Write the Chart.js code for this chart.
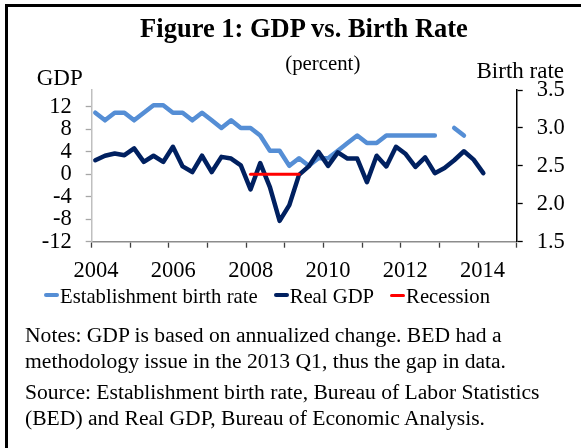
<!DOCTYPE html>
<html><head><meta charset="utf-8">
<script src="https://cdn.jsdelivr.net/npm/chart.js@4.4.1/dist/chart.umd.min.js"></script>
<style>
html,body{margin:0;padding:0;background:#fff;width:581px;height:448px;overflow:hidden;}
body{position:relative;font-family:"Liberation Serif","Times New Roman",serif;color:#000;}
#frame{position:absolute;left:5px;top:4px;width:700px;height:600px;border-left:3px solid #000;border-top:3px solid #000;}
#wrap{position:absolute;left:0;top:0;width:581px;height:448px;}
.t{position:absolute;white-space:nowrap;line-height:1;}
#legend{position:absolute;left:44px;top:286px;display:flex;align-items:center;gap:16px;font-size:20.7px;line-height:1;white-space:nowrap;}
#legend .it{display:flex;align-items:center;}
#legend .sw{display:inline-block;width:15px;margin-right:1px;border-radius:2px;position:relative;top:-1px;}
.notes{position:absolute;left:25px;font-size:21.6px;line-height:26.6px;white-space:nowrap;margin:0;}
</style></head><body>
<div id="frame"></div>
<div id="wrap"><canvas id="c" width="581" height="448"></canvas></div>
<div class="t" style="left:304px;top:15px;transform:translateX(-50%);font-size:26.5px;font-weight:bold;">Figure 1: GDP vs. Birth Rate</div>
<div class="t" style="left:322.8px;top:52.6px;transform:translateX(-50%);font-size:20.8px;">(percent)</div>
<div class="t" style="left:36.7px;top:65.7px;font-size:23px;">GDP</div>
<div class="t" style="right:17px;top:59px;font-size:23px;">Birth rate</div>
<div id="legend"></div>
<p class="notes" style="top:321.6px;">Notes: GDP is based on annualized change. BED had a<br>methodology issue in the 2013 Q1, thus the gap in data.</p>
<p class="notes" style="top:378.9px;">Source: Establishment birth rate, Bureau of Labor Statistics<br>(BED) and Real GDP, Bureau of Economic Analysis.</p>
<script>
const quarters = [
  '2004Q1','2004Q2','2004Q3','2004Q4','2005Q1','2005Q2','2005Q3','2005Q4',
  '2006Q1','2006Q2','2006Q3','2006Q4','2007Q1','2007Q2','2007Q3','2007Q4',
  '2008Q1','2008Q2','2008Q3','2008Q4','2009Q1','2009Q2','2009Q3','2009Q4',
  '2010Q1','2010Q2','2010Q3','2010Q4','2011Q1','2011Q2','2011Q3','2011Q4',
  '2012Q1','2012Q2','2012Q3','2012Q4','2013Q1','2013Q2','2013Q3','2013Q4',
  '2014Q1'
];
const birthRate = [
  3.2,3.1,3.2,3.2, 3.1,3.2,3.3,3.3,
  3.2,3.2,3.1,3.2, 3.1,3.0,3.1,3.0,
  3.0,2.9,2.7,2.7, 2.5,2.6,2.5,2.6,
  2.6,2.7,2.8,2.9, 2.8,2.8,2.9,2.9,
  2.9,2.9,2.9,2.9, null,3.0,2.9,null,
  null
];
const realGDP = [
  2.5,3.3,3.7,3.4, 4.6,2.2,3.3,2.2,
  4.9,1.4,0.4,3.3, 0.4,3.1,2.8,1.6,
  -2.7,2.0,-2.3,-8.3, -5.5,-0.1,1.4,4.0,
  1.5,3.9,2.8,2.8, -1.4,3.3,1.4,4.9,
  3.6,1.3,3.0,0.2, 1.1,2.5,4.1,2.6,
  0.2
];
const recession = [
  null,null,null,null, null,null,null,null,
  null,null,null,null, null,null,null,null,
  0,0,0,0, 0,0,null,null,
  null,null,null,null, null,null,null,null,
  null,null,null,null, null,null,null,null,
  null
];
const gdpTicks = [-12,-8,-4,0,4,8,12];
const rateTicks = [1.5,2.0,2.5,3.0,3.5];
const yearLabels = ['2004','2006','2008','2010','2012','2014'];
const seriesNames = ['Establishment birth rate','Real GDP','Recession'];
const seriesColors = ['#558ED5','#002060','#FF0000'];

const qx = q => Number(q.slice(0,4)) + (Number(q.slice(5)) - 1) / 4;
const pts = arr => quarters.map((q,i) => ({x: qx(q), y: arr[i]}));

const X_MIN = 2003.907, X_MAX = 2014.86;
const FONT = {family: "'Liberation Serif','Times New Roman',serif", size: 22.5};

// legend (HTML)
const lg = document.getElementById('legend');
seriesNames.forEach((n,i) => {
  const it = document.createElement('div'); it.className = 'it';
  const sw = document.createElement('span'); sw.className = 'sw';
  sw.style.background = seriesColors[i];
  sw.style.height = (i === 2 ? 3 : 4) + 'px';
  const tx = document.createElement('span'); tx.textContent = n;
  it.appendChild(sw); it.appendChild(tx); lg.appendChild(it);
});

new Chart(document.getElementById('c'), {
  type: 'line',
  data: {
    datasets: [
      {label: seriesNames[0], data: pts(birthRate), yAxisID: 'y2', borderColor: seriesColors[0], borderWidth: 4.5, order: 3},
      {label: seriesNames[1], data: pts(realGDP), yAxisID: 'y', borderColor: seriesColors[1], borderWidth: 4.5, order: 2},
      {label: seriesNames[2], data: pts(recession), yAxisID: 'y', borderColor: seriesColors[2], borderWidth: 3, order: 1}
    ]
  },
  options: {
    responsive: false,
    animation: false,
    devicePixelRatio: 1,
    layout: {padding: {top: 90, bottom: 156.3, left: 0, right: 0}},
    elements: {
      point: {radius: 0, hoverRadius: 0},
      line: {tension: 0, borderJoinStyle: 'round', borderCapStyle: 'round', fill: false}
    },
    plugins: {legend: {display: false}, tooltip: {enabled: false}, title: {display: false}},
    scales: {
      x: {
        type: 'linear', position: 'bottom', min: X_MIN, max: X_MAX,
        afterBuildTicks: s => { s.ticks = Array.from({length: 12}, (_, k) => ({value: X_MIN + k * (X_MAX - X_MIN) / 11})); },
        afterFit: s => { s.height = 50; },
        ticks: {autoSkip: false, maxRotation: 0, minRotation: 0, labelOffset: 4.4, padding: 9.5, color: '#000', font: FONT,
          callback: (v, i) => (i % 2 === 0 ? (yearLabels[i / 2] || '') : '')},
        grid: {drawOnChartArea: false, drawTicks: true, tickLength: 6, tickColor: '#404040', tickWidth: 1.3},
        border: {display: true, color: '#8C8C8C', width: 1.5}
      },
      y: {
        type: 'linear', position: 'left', min: -12, max: 15,
        afterBuildTicks: s => { s.ticks = gdpTicks.map(v => ({value: v})); },
        afterFit: s => { s.width = 91.7; },
        ticks: {autoSkip: false, padding: 14, color: '#000', font: FONT, callback: v => String(v)},
        grid: {drawOnChartArea: false, drawTicks: true, tickLength: 6, tickColor: '#A6A6A6', tickWidth: 1.3},
        border: {display: true, color: '#BFBFBF', width: 1.5}
      },
      y2: {
        type: 'linear', position: 'right', min: 1.5, max: 3.5,
        afterBuildTicks: s => { s.ticks = rateTicks.map(v => ({value: v})); },
        afterFit: s => { s.width = 64.3; },
        ticks: {autoSkip: false, padding: 14, color: '#000', font: FONT, callback: v => Number(v).toFixed(1)},
        grid: {drawOnChartArea: false, drawTicks: true, tickLength: 6, tickColor: '#000', tickWidth: 1.3},
        border: {display: true, color: '#000', width: 1.5}
      }
    }
  }
});
</script>
</body></html>
